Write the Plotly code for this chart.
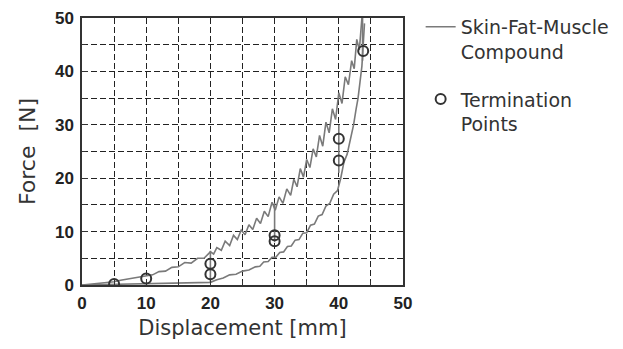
import plotly.graph_objects as go

# Upper (loading) curve of the skin-fat-muscle compound
upper_x = [0, 2, 4, 5, 6, 8, 10, 11, 12, 13, 14, 15, 16, 17, 18, 19, 20, 20.5, 21, 21.7,
           22.3, 23, 23.6, 24.2, 24.8, 25.4, 26, 26.6, 27.2, 27.8, 28.4, 29, 29.6, 30.1,
           30.7, 31.3, 31.9, 32.5, 33, 33.5, 34, 34.5, 35, 35.5, 36, 36.5, 37, 37.5, 38,
           38.5, 39, 39.5, 40, 40.5, 41, 41.5, 42, 42.4, 42.8, 43.2, 43.6]
upper_y = [0, 0.2, 0.5, 0.6, 0.9, 1.3, 1.8, 1.9, 2.5, 2.6, 3.3, 3.4, 4.2, 4.1, 5.0, 5.0, 6.2, 5.8, 7.0, 6.5,
           8.2, 7.4, 9.3, 8.5, 10.3, 9.4, 11.3, 10.4, 12.5, 11.5, 13.8, 12.8, 15.5, 14.0,
           16.5, 15.3, 18.0, 16.8, 19.8, 18.4, 21.8, 20.2, 23.5, 22.0, 25.5, 24.0, 28.0, 26.0, 30.5,
           28.5, 33.0, 31.0, 36.0, 34.0, 39.0, 37.5, 42.0, 40.5, 46.0, 44.0, 50.0]

# Lower curve
lower_x = [0, 5, 10, 15, 19, 20, 21, 22, 23, 24, 25, 26, 27, 27.7, 28.3, 29, 29.6, 30.2,
           30.8, 31.4, 32, 32.6, 33.2, 33.8, 34.4, 35, 35.6, 36.2, 36.8, 37.4, 38, 38.6,
           39.2, 39.8, 40.3, 40.8, 41.3, 41.8, 42.3, 42.7, 43, 43.3, 43.6, 43.8, 44]
lower_y = [0, 0.1, 0.2, 0.3, 0.4, 0.5, 1.0, 1.3, 1.9, 2.0, 2.6, 2.8, 3.4, 3.5, 4.3, 4.4, 5.2, 5.2,
           6.1, 6.2, 7.2, 7.3, 8.4, 8.5, 9.7, 9.8, 11.2, 11.4, 12.9, 13.2, 14.8, 15.3,
           17.0, 17.7, 20.0, 23.0, 24.5, 27.0, 30.0, 33.0, 35.0, 38.0, 41.0, 45.0, 49.0]

# Vertical drops where tests were terminated
drop_x = [20, 20, None, 30, 30, None, 40, 40, None, 43.7, 43.7]
drop_y = [6.4, 0.4, None, 15.4, 8.0, None, 30.0, 21.0, None, 50.0, 42.0]

# Termination points
term_x = [5, 10, 20, 20, 30, 30, 40, 40, 43.8]
term_y = [0.2, 1.2, 2.0, 4.0, 8.2, 9.3, 23.3, 27.4, 43.8]

x_ticks = [0, 10, 20, 30, 40, 50]
y_ticks = [0, 10, 20, 30, 40, 50]

curve_color = "#7a7a7a"
text_font = "DejaVu Sans, Liberation Sans, Arial"
fig = go.Figure()
fig.add_trace(go.Scatter(x=upper_x, y=upper_y, mode="lines",
                         line=dict(color=curve_color, width=1.6), legendgroup="g1",
                         name="Skin-Fat-Muscle<br>Compound", showlegend=True))
fig.add_trace(go.Scatter(x=lower_x, y=lower_y, mode="lines", legendgroup="g1",
                         line=dict(color=curve_color, width=1.6), showlegend=False))
fig.add_trace(go.Scatter(x=drop_x, y=drop_y, mode="lines", legendgroup="g1",
                         line=dict(color=curve_color, width=1.6), showlegend=False))
fig.add_trace(go.Scatter(x=term_x, y=term_y, mode="markers", legendgroup="g2",
                         marker=dict(symbol="circle-open", size=10, color="#333333",
                                     line=dict(width=2, color="#333333")),
                         name="Termination<br>Points"))

axis_common = dict(
    range=[0, 50], ticks="inside", ticklen=6, tickcolor="#333333",
    showline=True, linecolor="#333333", linewidth=1.5, mirror=True, zeroline=False,
    showgrid=True, gridcolor="#222222", griddash="6px,3px", gridwidth=1,
    tickfont=dict(family="Liberation Sans, Arial", size=17, color="#222222", weight="bold"),
    minor=dict(dtick=5, showgrid=True, gridcolor="#222222", griddash="6px,3px", gridwidth=1,
               ticks="inside", ticklen=4, tickcolor="#333333"),
)
fig.update_xaxes(**axis_common, tickvals=x_ticks, ticklabelstandoff=2,
                 title=dict(text="Displacement [mm]", standoff=8,
                            font=dict(family=text_font, size=21, color="#333333")))
fig.update_yaxes(**axis_common, tickvals=y_ticks, ticklabelstandoff=3,
                 title=dict(text="Force  [N]", standoff=13,
                            font=dict(family=text_font, size=22, color="#333333")))

fig.update_layout(
    width=623, height=349,
    margin=dict(l=82, r=220, t=18, b=64, autoexpand=False),
    paper_bgcolor="white", plot_bgcolor="white",
    legend=dict(x=1.055, y=1.038, xanchor="left", yanchor="top", valign="top",
                font=dict(family=text_font, size=19, color="#333333"),
                tracegroupgap=20, bgcolor="rgba(0,0,0,0)"),
)

fig.write_html("out.html")
